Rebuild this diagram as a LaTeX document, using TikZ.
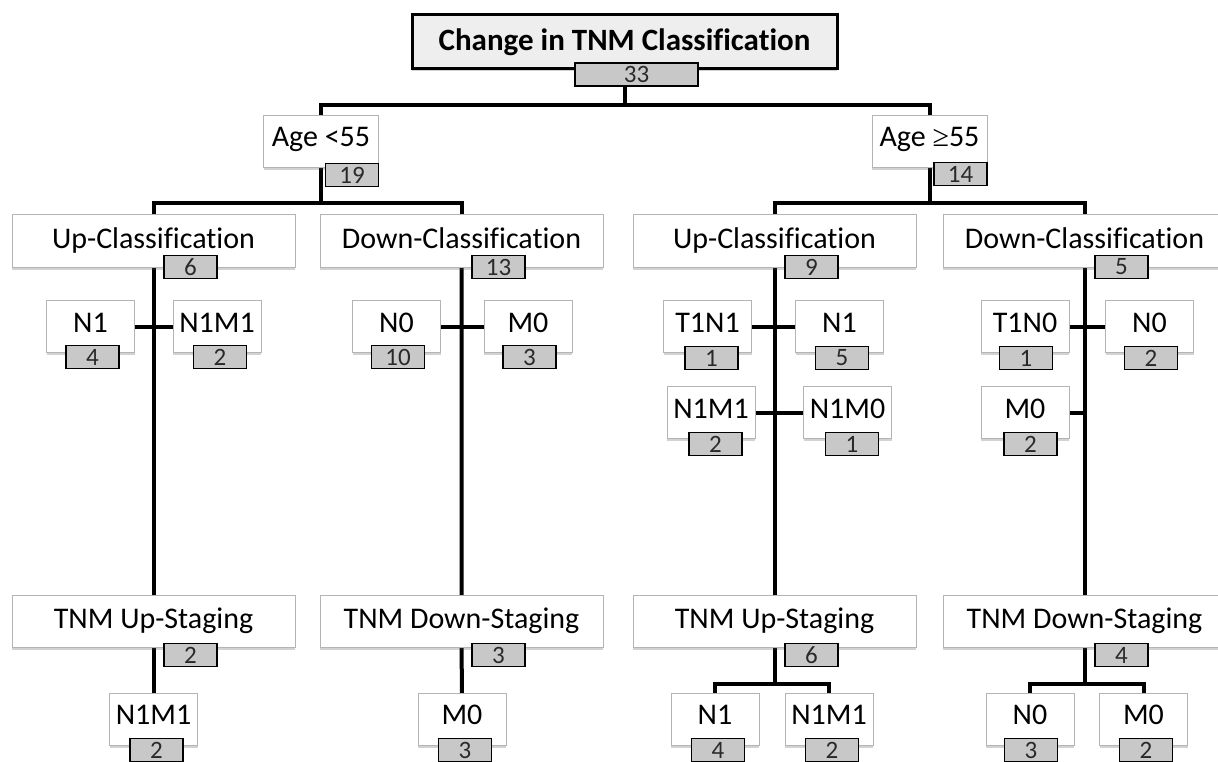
\documentclass[tikz,border=0pt]{standalone}
\usepackage{fontspec}
\setmainfont{Carlito}[Ligatures={NoCommon,NoContextual,NoRare},RawFeature={-liga;-clig;-dlig;-calt}]
\newfontfamily\symfont{Liberation Serif}
\newcommand\nolig{\kern0pt{}}
\usetikzlibrary{shadows,backgrounds}
\definecolor{cntfill}{HTML}{C8C8C8}
\definecolor{boxline}{HTML}{B4B4B4}
\definecolor{titlefill}{HTML}{EEEEEE}
\definecolor{cnttext}{HTML}{2A2A2A}
\begin{document}
\begin{tikzpicture}[x=1pt,y=-1pt,
 every node/.style={inner sep=0pt, outer sep=0pt},
 shadowed/.style={drop shadow={shadow xshift=0pt, shadow yshift=-2.5pt, opacity=0.25, fill=black!70}},
 catbox/.style={draw=boxline, line width=1pt, fill=white, minimum height=52pt, font=\fontsize{30}{34}\selectfont, text height=21pt, text depth=7pt, shadowed},
 widebox/.style={catbox, minimum width=283pt},
 agebox/.style={catbox, minimum width=115pt, text height=20pt, text depth=11pt},
 leafbox/.style={catbox, minimum width=88pt, text height=20pt, text depth=9pt},
 cnt/.style={draw=black, line width=1.8pt, fill=cntfill, minimum width=53pt, minimum height=23pt, font=\fontsize{25}{26}\selectfont, text=cnttext},
 titlebox/.style={draw=black, line width=3pt, fill=titlefill, minimum width=425pt, minimum height=54pt, font=\fontsize{31}{34}\selectfont\bfseries, shadowed},
 conn/.style={draw=black, line width=4pt}
]
\useasboundingbox (0,0) rectangle (1218,762);

% level 0
\node[titlebox] (title) at (624.5,42) {Change in TNM Classif\nolig icat\nolig ion};
\node[cnt, minimum width=123pt] (c0) at (636.5,74.5) {33};

% level 1
\node[agebox] (ageL) at (321,142) {Age <55};
\node[agebox] (ageR) at (929.5,142) {Age {\symfont ≥}55};
\node[cnt] (cageL) at (352,175) {19};
\node[cnt] (cageR) at (960.5,174) {14};

% level 2
\node[widebox] (upL) at (153.5,241) {Up-Classif\nolig icat\nolig ion};
\node[widebox] (dnL) at (461.5,241) {Down-Classif\nolig icat\nolig ion};
\node[widebox] (upR) at (774.5,241) {Up-Classif\nolig icat\nolig ion};
\node[widebox] (dnR) at (1084.5,241) {Down-Classif\nolig icat\nolig ion};
\node[cnt] (cupL) at (190.5,267) {6};
\node[cnt] (cdnL) at (498.5,267) {13};
\node[cnt] (cupR) at (811.5,267) {9};
\node[cnt] (cdnR) at (1121.5,267) {5};

% level 3 leaves
\node[leafbox] (lN1) at (90.5,326.5) {N1};
\node[leafbox] (lN1M1) at (217,326.5) {N1M1};
\node[leafbox] (lN0) at (396.5,326.5) {N0};
\node[leafbox] (lM0) at (528,326.5) {M0};
\node[leafbox] (rT1N1) at (707.5,326.5) {T1N1};
\node[leafbox] (rN1) at (839.5,326.5) {N1};
\node[leafbox] (rN1M1) at (711,412.5) {N1M1};
\node[leafbox] (rN1M0) at (847.5,412.5) {N1M0};
\node[leafbox] (dT1N0) at (1025,326.5) {T1N0};
\node[leafbox] (dN0) at (1149.5,326.5) {N0};
\node[leafbox] (dM0) at (1025,412.5) {M0};
\node[cnt] (clN1) at (92.5,357) {4};
\node[cnt] (clN1M1) at (220,357) {2};
\node[cnt] (clN0) at (398,357) {10};
\node[cnt] (clM0) at (529.5,357) {3};
\node[cnt] (crT1N1) at (711.5,358) {1};
\node[cnt] (crN1) at (842,358) {5};
\node[cnt] (crN1M1) at (715.5,444) {2};
\node[cnt] (crN1M0) at (852,444) {1};
\node[cnt] (cdT1N0) at (1026,358) {1};
\node[cnt] (cdN0) at (1151,358) {2};
\node[cnt] (cdM0) at (1030.5,444) {2};

% level 4
\node[widebox] (stUL) at (153.5,621) {TNM Up-Staging};
\node[widebox] (stDL) at (461.5,621) {TNM Down-Staging};
\node[widebox] (stUR) at (774.5,621) {TNM Up-Staging};
\node[widebox] (stDR) at (1084.5,621) {TNM Down-Staging};
\node[cnt] (cstUL) at (190.5,655) {2};
\node[cnt] (cstDL) at (498.5,655) {3};
\node[cnt] (cstUR) at (811.5,655) {6};
\node[cnt] (cstDR) at (1121.5,655) {4};

% level 5
\node[leafbox] (bL) at (153.5,719) {N1M1};
\node[leafbox] (bM0) at (462,719) {M0};
\node[leafbox] (bN1) at (715,719) {N1};
\node[leafbox] (bN1M1) at (829,719) {N1M1};
\node[leafbox] (bN0) at (1030,719) {N0};
\node[leafbox] (bM0r) at (1143.5,719) {M0};
\node[cnt] (cbL) at (156.5,750) {2};
\node[cnt] (cbM0) at (465,750) {3};
\node[cnt] (cbN1) at (718,750) {4};
\node[cnt] (cbN1M1) at (832,750) {2};
\node[cnt] (cbN0) at (1031,750) {3};
\node[cnt] (cbM0r) at (1146,750) {2};

\begin{scope}[on background layer]
\coordinate (j0) at (624.5,105);
\coordinate (jL) at (321,203);
\coordinate (jR) at (929.5,203);
\coordinate (jBU) at (774.5,684);
\coordinate (jBD) at (1084.5,684);
\draw[conn] (title.center) -- (j0);
\draw[conn] (ageL.center) |- (j0) -| (ageR.center);
\draw[conn] (ageL.center) -- (jL);
\draw[conn] (upL.center) |- (jL) -| (dnL.center);
\draw[conn] (ageR.center) -- (jR);
\draw[conn] (upR.center) |- (jR) -| (dnR.center);
\draw[conn] (upL.center) -- (stUL.center) -- (bL.center);
\draw[conn] (dnL.center) -- (stDL.center) -- (bM0.center);
\draw[conn] (upR.center) -- (stUR.center) -- (jBU);
\draw[conn] (dnR.center) -- (stDR.center) -- (jBD);
\draw[conn] (bN1.center) |- (jBU) -| (bN1M1.center);
\draw[conn] (bN0.center) |- (jBD) -| (bM0r.center);
\draw[conn] (lN1.center) -- (lN1M1.center);
\draw[conn] (lN0.center) -- (lM0.center);
\draw[conn] (rT1N1.center) -- (rN1.center);
\draw[conn] (rN1M1.center) -- (rN1M0.center);
\draw[conn] (dT1N0.center) -- (dN0.center);
\draw[conn] (dM0.center) -- (dM0.center -| dnR.center);
\end{scope}
\end{tikzpicture}
\end{document}
